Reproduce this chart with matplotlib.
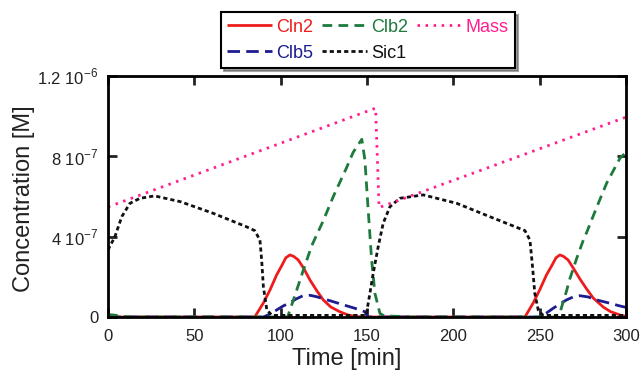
import matplotlib.pyplot as plt

plt.rcParams['font.family'] = ['Liberation Sans', 'DejaVu Sans']
plt.rcParams['lines.scale_dashes'] = False
plt.rcParams['mathtext.fontset'] = 'custom'
plt.rcParams['mathtext.rm'] = 'Liberation Sans'

# concentrations in units of 1e-7 M, time in min
mass_t = [0, 155, 157, 300]
mass_c = [5.48, 10.4, 5.45, 9.95]

sic1_t = [0, 4, 8, 12.7, 18.5, 27, 42, 61, 80, 85, 88, 89, 90, 92, 95, 110, 130, 149.5,
          151.7, 153.6, 156.5, 159.4, 163.3, 169, 182.6, 202, 221, 241.5, 244.4, 245.9,
          247.2, 249.2, 252, 270, 300]
sic1_c = [3.34, 4.0, 5.0, 5.66, 5.91, 6.03, 5.74, 5.16, 4.5, 4.3, 3.83, 2.84, 1.5, 0.35, 0.08,
          0.08, 0.08, 0.08,
          1.18, 2.17, 3.5, 4.67, 5.49, 5.91, 6.08, 5.66, 5.0, 4.3, 3.83, 2.5,
          1.18, 0.35, 0.08, 0.08, 0.08]

cln2_t = [0, 85, 90, 93.8, 97.7, 100.6, 103, 105.4, 107.5, 110.2, 113.5, 117, 121, 124.7, 129,
          134.3, 139, 144, 150, 241.5, 246.3, 250, 254, 257, 259.5, 261.7, 263.8, 266.5,
          269.4, 273.3, 277.2, 281, 286.8, 291, 296.5, 300]
cln2_c = [0, 0, 0.7, 1.34, 2.1, 2.55, 2.95, 3.09, 3.02, 2.84, 2.4, 1.84, 1.3, 0.85, 0.5,
          0.26, 0.1, 0.02, 0, 0, 0.7, 1.34, 2.1, 2.55, 2.95, 3.09, 3.02, 2.84,
          2.45, 1.9, 1.4, 0.95, 0.5, 0.27, 0.1, 0.03]

clb2_t = [0, 3, 6, 9, 12, 104, 108, 113, 118, 124.7, 130.5, 138, 142, 147, 148.8, 150.7,
          152.7, 154.6, 157.5, 160, 170, 175, 261, 265.6, 267.5, 271.4, 275.2, 277.2, 283,
          288.8, 296.5, 300]
clb2_c = [0.12, 0.1, 0.07, 0.03, 0, 0, 1.0, 2.3, 3.55, 4.8, 6.0, 7.4, 8.2, 8.85, 7.82, 5.33,
          2.84, 1.18, 0.18, 0.05, 0.03, 0, 0, 1.3, 1.9, 2.9, 3.8, 4.2, 5.45,
          6.66, 7.9, 8.2]

clb5_t = [0, 90, 94, 97.7, 101.5, 105.4, 109, 113, 117, 120.8, 125, 130.5, 135, 140, 145,
          148.8, 150.5, 250, 254, 257.8, 261.7, 265.6, 269.5, 273.3, 278, 283, 290, 296.5, 300]
clb5_c = [0, 0, 0.15, 0.35, 0.55, 0.71, 0.9, 1.06, 1.08, 1.01, 0.9, 0.76, 0.64, 0.51, 0.38,
          0.26, 0, 0, 0.2, 0.43, 0.65, 0.85, 1.0, 1.06, 1.0, 0.85, 0.7, 0.55, 0.48]

x_ticks = [0, 50, 100, 150, 200, 250, 300]
y_ticks = [0, 4, 8, 12]
y_labels = ['0', '4 10$^{-7}$', '8 10$^{-7}$', '1.2 10$^{-6}$']

red = '#ee1c1c'
green = '#1e7a3c'
pink = '#ff1f8e'
navy = '#1c1c8f'
black = '#111111'

fig = plt.figure(figsize=(6.41, 3.81), dpi=100)
ax = fig.add_axes([0.1685, 0.168, 0.808, 0.6325])

lw = 2.0
l_cln2, = ax.plot(cln2_t, cln2_c, color=red, lw=lw, solid_capstyle='butt')
l_clb5, = ax.plot(clb5_t, clb5_c, color=navy, lw=lw, dashes=(9, 4.5))
l_clb2, = ax.plot(clb2_t, clb2_c, color=green, lw=lw, dashes=(7, 4.5))
l_sic1, = ax.plot(sic1_t, sic1_c, color=black, lw=lw, dashes=(3, 2.2))
l_mass, = ax.plot(mass_t, mass_c, color=pink, lw=lw, dashes=(1.8, 4))

ax.set_xlim(0, 300)
ax.set_ylim(0, 12)
ax.set_xticks(x_ticks)
ax.set_yticks(y_ticks)
ax.set_yticklabels(y_labels)
for s in ax.spines.values():
    s.set_linewidth(2)
ax.tick_params(direction='in', length=6.5, width=2, top=True, right=True,
               labelsize=12, colors='#222222')
ax.tick_params(axis='x', pad=9)
ax.tick_params(axis='y', pad=7)
ax.set_xlabel('Time [min]', fontsize=17, color='#222222')
ax.set_ylabel('Concentration [M]', fontsize=17, color='#222222')
ax.xaxis.set_label_coords(0.461, -0.128)
ax.yaxis.set_label_coords(-0.141, 0.49)

handles = [l_cln2, l_clb5, l_clb2, l_sic1, l_mass]
names = ['Cln2', 'Clb5', 'Clb2', 'Sic1', 'Mass']
leg = fig.legend(handles, names, ncol=3, loc='center',
                 bbox_to_anchor=(0.574, 0.8945), fontsize=13, frameon=True,
                 fancybox=False, shadow=True, handlelength=2.5, handletextpad=0.2,
                 columnspacing=0.5, labelspacing=0.5, borderpad=0.35, borderaxespad=0)
leg.get_frame().set_edgecolor('black')
leg.get_frame().set_linewidth(1.5)
for txt, h in zip(leg.get_texts(), handles):
    txt.set_color(h.get_color())

fig.savefig('out.png', dpi=100)
